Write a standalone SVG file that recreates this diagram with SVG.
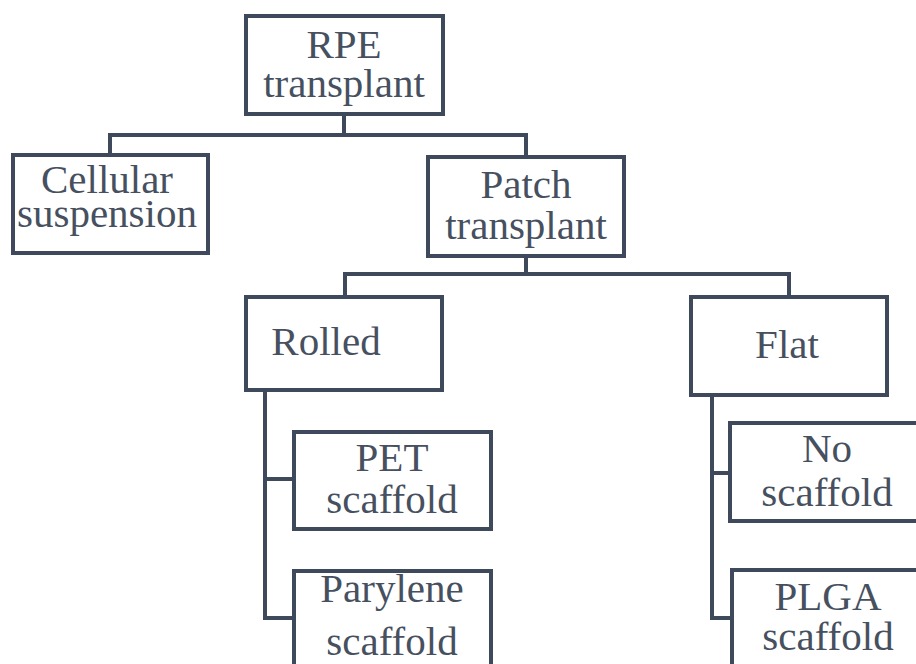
<svg xmlns="http://www.w3.org/2000/svg" width="916" height="664" viewBox="0 0 916 664">
<style>
.box{fill:#fff;stroke:#3e4a5b;stroke-width:4}
.con{fill:none;stroke:#3e4a5b;stroke-width:4}
text{font-size:41px;fill:#46505f;text-anchor:middle}
</style>
<rect width="916" height="664" fill="#fff"/>
<g id="connectors">
<path class="con" d="M344 114V135M110 155V135H526V158"/>
<path class="con" d="M526 256V274M345 297V274H789V297"/>
<path class="con" d="M265 390V618H294M265 479H294"/>
<path class="con" d="M712 395V618H732M712 473H730"/>
</g>
<g font-family="Liberation Serif, DejaVu Serif, serif">
<g id="rpe"><rect class="box" x="246" y="16" width="197" height="98"/><text x="344" y="58">RPE</text><text x="344" y="97">transplant</text></g>
<g id="cellular"><rect class="box" x="13" y="155" width="195" height="98"/><text x="107" y="193">Cellular</text><text x="107" y="227">suspension</text></g>
<g id="patch"><rect class="box" x="428" y="157" width="196" height="99"/><text x="526" y="198">Patch</text><text x="526" y="239">transplant</text></g>
<g id="rolled"><rect class="box" x="246" y="297" width="196" height="93"/><text x="326" y="355">Rolled</text></g>
<g id="flat"><rect class="box" x="691" y="297" width="196" height="98"/><text x="787" y="358">Flat</text></g>
<g id="pet"><rect class="box" x="294" y="432" width="197" height="97"/><text x="392" y="471">PET</text><text x="392" y="513">scaffold</text></g>
<g id="parylene"><rect class="box" x="294" y="571" width="197" height="110"/><text x="392" y="602">Parylene</text><text x="392" y="655">scaffold</text></g>
<g id="noscaffold"><rect class="box" x="730" y="423" width="200" height="98"/><text x="827" y="462">No</text><text x="827" y="506">scaffold</text></g>
<g id="plga"><rect class="box" x="732" y="570" width="200" height="110"/><text x="828" y="610">PLGA</text><text x="828" y="650">scaffold</text></g>
</g>
</svg>
